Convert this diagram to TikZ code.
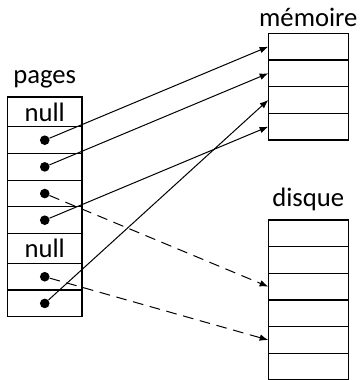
\documentclass[tikz,border=0pt]{standalone}
\usepackage{fontspec}
\setmainfont{Carlito}
\usetikzlibrary{positioning,arrows.meta}
\begin{document}
\begin{tikzpicture}[x=0.75pt,y=0.75pt,
  cell/.style={draw, line width=0.9pt, rectangle, inner sep=0pt, outer sep=0pt, minimum height=20pt},
  pcell/.style={cell, minimum width=55.9pt},
  pnull/.style={pcell, minimum height=22.4pt, font=\fontsize{20}{24}\selectfont},
  mcell/.style={cell, minimum width=60pt},
  lbl/.style={font=\fontsize{20}{24}\selectfont, inner sep=0pt, anchor=base},
  ptr/.style={circle, fill, inner sep=0pt, minimum size=7.2pt},
  link/.style={line width=0.75pt, -{Latex[length=6.5pt,width=5pt]}},
  dlink/.style={link, dash pattern=on 8pt off 5pt},
]
\useasboundingbox (0,0) rectangle (361,380);

% pages
\node[lbl] (lp) at (44.75,296.7) {pages};
\node[pnull, anchor=north] (p1) at (44.75,283) {null};
\node[pcell, below=0pt of p1] (p2) {};
\node[pcell, below=0pt of p2] (p3) {};
\node[pcell, below=0pt of p3] (p4) {};
\node[pcell, below=0pt of p4] (p5) {};
\node[pnull, below=0pt of p5] (p6) {null};
\node[pcell, below=0pt of p6] (p7) {};
\node[pcell, below=0pt of p7] (p8) {};

% memoire
\node[lbl] (lm) at (308.3,354) {mémoire};
\node[mcell, anchor=north] (m1) at (308.3,346.7) {};
\node[mcell, below=0pt of m1] (m2) {};
\node[mcell, below=0pt of m2] (m3) {};
\node[mcell, below=0pt of m3] (m4) {};

% disque
\node[lbl] (ld) at (308.3,173.3) {disque};
\node[mcell, anchor=north] (d1) at (308.3,160) {};
\node[mcell, below=0pt of d1] (d2) {};
\node[mcell, below=0pt of d2] (d3) {};
\node[mcell, below=0pt of d3] (d4) {};
\node[mcell, below=0pt of d4] (d5) {};
\node[mcell, below=0pt of d5] (d6) {};

% pointers
\foreach \i in {2,3,4,5,7,8} \node[ptr] (a\i) at (p\i.center) {};

\draw[link] (a2) -- (m1.west);
\draw[link] (a3) -- (m2.west);
\draw[link] (a5) -- (m4.west);
\draw[link] (a8) -- (m3.west);
\draw[dlink] (a4) -- (d3.west);
\draw[dlink] (a7) -- (d5.west);
\end{tikzpicture}
\end{document}
